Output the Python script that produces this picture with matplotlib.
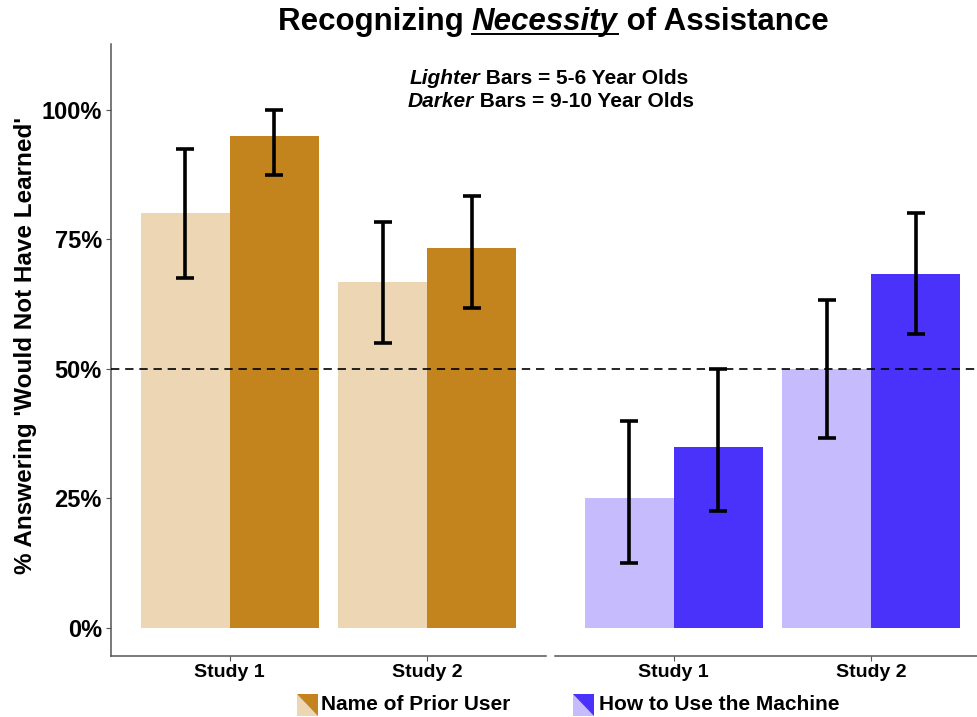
import matplotlib
matplotlib.use("Agg")
import matplotlib.pyplot as plt
from matplotlib.patches import Polygon
from matplotlib.lines import Line2D
from matplotlib.ticker import FuncFormatter

plt.rcParams['font.family'] = ['Liberation Sans', 'DejaVu Sans']

# data
studies = ["Study 1", "Study 2"]
conditions = ["Name of Prior User", "How to Use the Machine"]

prior_young = [0.800, 0.667]
prior_young_lo = [0.675, 0.550]
prior_young_hi = [0.925, 0.783]
prior_old = [0.950, 0.733]
prior_old_lo = [0.875, 0.617]
prior_old_hi = [1.000, 0.833]

machine_young = [0.250, 0.500]
machine_young_lo = [0.125, 0.367]
machine_young_hi = [0.400, 0.633]
machine_old = [0.350, 0.683]
machine_old_lo = [0.225, 0.567]
machine_old_hi = [0.500, 0.800]

light_cols = ["#EDD6B4", "#C6BBFC"]
dark_cols = ["#C4841D", "#4B32FA"]

W, H = 978, 717
fig = plt.figure(figsize=(W / 100, H / 100), dpi=100)

def fx(px):
    return px / W

def fy(py):
    return 1 - py / H

ax_l = fig.add_axes([fx(111), fy(656), fx(546) - fx(111), fy(44) - fy(656)])
ax_r = fig.add_axes([fx(555), fy(656), fx(990) - fx(555), fy(44) - fy(656)])

panels = [
    (ax_l, prior_young, prior_young_lo, prior_young_hi, prior_old, prior_old_lo, prior_old_hi),
    (ax_r, machine_young, machine_young_lo, machine_young_hi, machine_old, machine_old_lo, machine_old_hi),
]

bw = 0.45
xs = [1, 2]
for i, (ax, y1, lo1, hi1, y2, lo2, hi2) in enumerate(panels):
    x1 = [x - bw / 2 for x in xs]
    x2 = [x + bw / 2 for x in xs]
    ax.bar(x1, y1, width=bw, color=light_cols[i], zorder=2)
    ax.bar(x2, y2, width=bw, color=dark_cols[i], zorder=2)
    for xx, yy, lo, hi in zip(x1 + x2, y1 + y2, lo1 + lo2, hi1 + hi2):
        ax.errorbar([xx], [yy], yerr=[[yy - lo], [hi - yy]], fmt='none',
                    ecolor='black', elinewidth=2.6, capsize=6.5, capthick=2.6, zorder=4)
    ax.axhline(0.5, color='black', linestyle=(0, (5, 3.5)), linewidth=1.2, zorder=3)
    ax.set_xlim(0.4, 2.6)
    ax.set_ylim(-0.054, 1.127)
    ax.set_xticks(xs)
    ax.set_xticklabels(studies, fontsize=14, fontweight='bold')
    ax.tick_params(axis='x', length=3.5, color='#555555', pad=2)
    for s in ['top', 'right']:
        ax.spines[s].set_visible(False)
    ax.spines['bottom'].set_color('#555555')
    ax.spines['bottom'].set_linewidth(1.1)
    ax.set_facecolor('white')

ax_l.spines['left'].set_color('#555555')
ax_l.spines['left'].set_linewidth(1.1)
ax_l.set_yticks([0, 0.25, 0.5, 0.75, 1.0])
ax_l.yaxis.set_major_formatter(FuncFormatter(lambda v, p: f"{int(round(v * 100))}%"))
ax_l.tick_params(axis='y', length=3.5, color='#555555', labelsize=17, pad=3)
for t in ax_l.get_yticklabels():
    t.set_fontweight('bold')
ax_l.set_ylabel("% Answering 'Would Not Have Learned'", fontsize=17.5, fontweight='bold')
ax_l.yaxis.set_label_coords(-(111 - 37) / 435, (656 - 345) / 612)

ax_r.spines['left'].set_visible(False)
ax_r.set_yticks([])


def rich_line(parts, cx, y, size, underline=None):
    # draw text pieces side by side, centred on cx (figure fraction)
    fig.canvas.draw()
    r = fig.canvas.get_renderer()
    objs = []
    for txt, style in parts:
        t = fig.text(0, y, txt, fontsize=size, fontweight='bold', fontstyle=style,
                     ha='left', va='baseline')
        objs.append(t)
    widths = [o.get_window_extent(r).width for o in objs]
    total = sum(widths)
    x = cx * W - total / 2
    for o, w, (txt, _) in zip(objs, widths, parts):
        o.set_x(x / W)
        if underline is not None and txt == underline:
            fig.add_artist(Line2D([x / W, (x + w) / W], [y - 4 / H, y - 4 / H],
                                  color='black', linewidth=1.4, transform=fig.transFigure))
        x += w


rich_line([("Recognizing ", 'normal'), ("Necessity", 'italic'), (" of Assistance", 'normal')],
          fx(553), fy(30), 22.5, underline="Necessity")
rich_line([("Lighter", 'italic'), (" Bars = 5-6 Year Olds", 'normal')], fx(549), fy(84), 15)
rich_line([("Darker", 'italic'), (" Bars = 9-10 Year Olds", 'normal')], fx(551), fy(107), 15)

# legend
key_x = [297, 573]
text_x = [321, 599]
for i in range(2):
    x0, x1 = key_x[i], key_x[i] + 21
    y0, y1 = 694, 716
    fig.add_artist(Polygon([(fx(x0), fy(y0)), (fx(x1), fy(y0)), (fx(x1), fy(y1)), (fx(x0), fy(y1))],
                           closed=True, facecolor=light_cols[i], edgecolor='none',
                           transform=fig.transFigure))
    fig.add_artist(Polygon([(fx(x0), fy(y0)), (fx(x1), fy(y0)), (fx(x1), fy(y1))],
                           closed=True, facecolor=dark_cols[i], edgecolor='none',
                           transform=fig.transFigure))
    fig.text(fx(text_x[i]), fy(705), conditions[i], fontsize=15, fontweight='bold',
             ha='left', va='center')

fig.savefig("out.png", dpi=100)
